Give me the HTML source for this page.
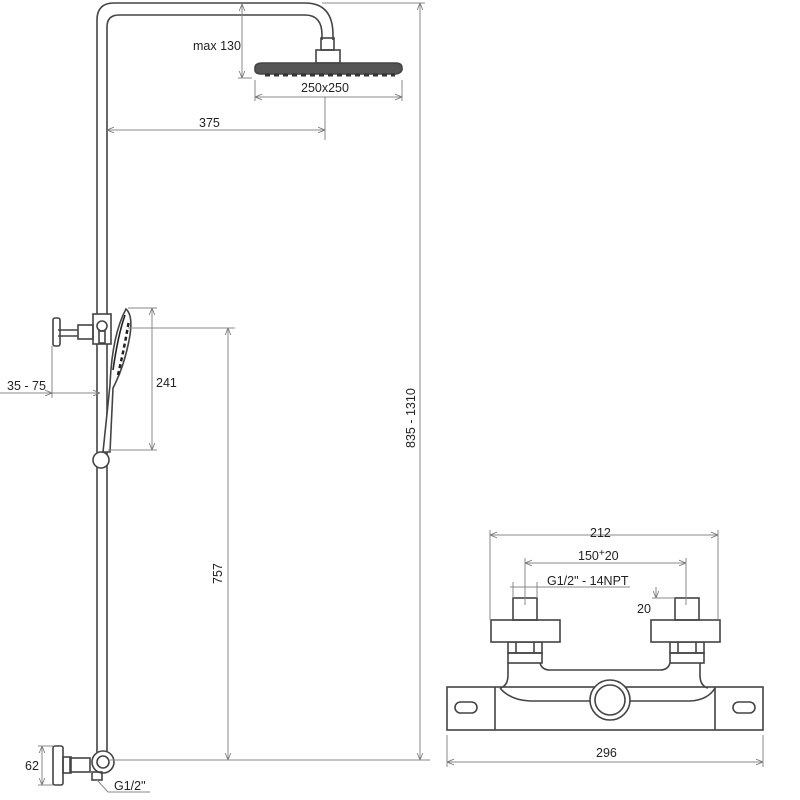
<!DOCTYPE html>
<html><head><meta charset="utf-8"><style>html,body{margin:0;padding:0;background:#fff}svg{display:block}text{font-family:"Liberation Sans",sans-serif;fill:#222}</style></head><body>
<svg width="800" height="800" viewBox="0 0 800 800" xmlns="http://www.w3.org/2000/svg">
<defs>
<marker id="a" viewBox="0 0 10 10" refX="10" refY="5" markerWidth="7" markerHeight="7" orient="auto-start-reverse"><path d="M0,1 L10,5 L0,9" fill="none" stroke="#777" stroke-width="1.2"/></marker>
</defs>
<g fill="none" stroke="#444" stroke-width="1.6">
<path d="M97,755 V20 Q97,3 114,3 H305 Q333,3 333,35 V40"/>
<path d="M107,755 V27 Q107,15 119,15 H305 Q322,15 322,35 V40"/>
<rect x="321" y="38" width="13" height="12"/>
<rect x="316" y="50" width="24" height="13"/>
<path d="M255,68 Q255,63 262,63 H396 Q402,63 402,68 V70 Q400,74 395,74 H262 Q255,74 255,70 Z" fill="#555"/>
<path d="M265,75 H395" stroke="#333" stroke-width="3" stroke-dasharray="5,4"/>
<rect x="93" y="314" width="18" height="30" fill="#fff"/>
<circle cx="102" cy="326" r="5" fill="#fff"/>
<rect x="99" y="331" width="6" height="12"/>
<rect x="78" y="325" width="15" height="14"/>
<path d="M58,330 H78 M58,336 H78"/>
<rect x="53" y="318" width="7" height="28" rx="2"/>
<path d="M110,385 Q112,335 126,309 Q133,315 130,335 Q125,365 113,388 L110,452 H103 Z" fill="#fff"/>
<path d="M113,370 Q118,335 125,315" stroke="#222" stroke-width="1.6"/>
<path d="M118,375 Q125,345 129,320" stroke="#222" stroke-width="2.5" stroke-dasharray="4,3"/>
<circle cx="101" cy="460" r="8" fill="#fff"/>
<circle cx="103" cy="762" r="11" fill="#fff"/>
<circle cx="103" cy="762" r="6"/>
<rect x="70" y="758" width="20" height="14"/>
<rect x="53" y="746" width="10" height="39" rx="2"/>
<rect x="63" y="757" width="8" height="16"/>
<rect x="92" y="772" width="10" height="8"/>
<rect x="447" y="687" width="316" height="43"/>
<path d="M495,687 V730 M715,687 V730"/>
<rect x="455" y="702" width="22" height="11" rx="5.5"/>
<rect x="733" y="702" width="22" height="11" rx="5.5"/>
<path d="M508,663 V675 Q508,686 500,688 M700,663 V675 Q700,686 708,688"/>
<path d="M540,663 Q542,670 550,670 H660 Q668,670 670,663"/>
<path d="M500,688 Q510,700 530,701 H590 M630,701 H690 Q708,700 715,688"/>
<circle cx="610" cy="700" r="20" fill="#fff"/>
<circle cx="610" cy="700" r="15"/>
<rect x="508" y="653" width="34" height="10"/>
<rect x="508" y="642" width="34" height="11"/>
<path d="M516,642 V653 M534,642 V653"/>
<rect x="670" y="653" width="34" height="10"/>
<rect x="670" y="642" width="34" height="11"/>
<path d="M678,642 V653 M696,642 V653"/>
<rect x="491" y="620" width="69" height="22" fill="#fff"/>
<rect x="651" y="620" width="69" height="22" fill="#fff"/>
<rect x="513" y="598" width="24" height="22"/>
<rect x="675" y="598" width="24" height="22"/>
</g>
<g fill="none" stroke="#888" stroke-width="1">
<path d="M242,4 V78" marker-start="url(#a)" marker-end="url(#a)"/>
<path d="M238,78 H252"/>
<path d="M255,97 H402" marker-start="url(#a)" marker-end="url(#a)"/>
<path d="M255,80 V101 M402,80 V101 M325,97 V140"/>
<path d="M107,130 H325" marker-start="url(#a)" marker-end="url(#a)"/>
<path d="M322,3 H425"/>
<path d="M420,3 V760" marker-start="url(#a)" marker-end="url(#a)"/>
<path d="M128,308 H157 M108,450 H157"/>
<path d="M152,308 V450" marker-start="url(#a)" marker-end="url(#a)"/>
<path d="M52,346 V398"/>
<path d="M0,393 H52" marker-end="url(#a)"/>
<path d="M52,393 H100" marker-end="url(#a)"/>
<path d="M128,328 H235"/>
<path d="M228,328 V760" marker-start="url(#a)" marker-end="url(#a)"/>
<path d="M110,760 H430"/>
<path d="M42,746 V785" marker-start="url(#a)" marker-end="url(#a)"/>
<path d="M38,746 H53 M38,785 H53"/>
<path d="M97,780 L108,792 H150"/>
<path d="M490,535 H718" marker-start="url(#a)" marker-end="url(#a)"/>
<path d="M490,530 V620 M718,530 V620"/>
<path d="M525,563 H686" marker-start="url(#a)" marker-end="url(#a)"/>
<path d="M525,558 V605 M686,558 V605"/>
<path d="M510,587 H537 M513,582 V598 M537,582 V598"/>
<path d="M537,587 H630"/>
<path d="M656,587 V598" marker-end="url(#a)"/>
<path d="M652,598 H675"/>
<path d="M447,762 H763" marker-start="url(#a)" marker-end="url(#a)"/>
<path d="M447,735 V767 M763,735 V767"/>
</g>
<g font-size="12.5">
<text x="193" y="50">max 130</text>
<text x="301" y="92">250x250</text>
<text x="199" y="127">375</text>
<text x="156" y="387">241</text>
<text x="7" y="390">35 - 75</text>
<text x="415" y="448" transform="rotate(-90 415 448)">835 - 1310</text>
<text x="222" y="584" transform="rotate(-90 222 584)">757</text>
<text x="25" y="770">62</text>
<text x="114" y="790">G1/2"</text>
<text x="590" y="537">212</text>
<text x="578" y="560">150<tspan font-size="10" dy="-4">+</tspan><tspan dy="4">20</tspan></text>
<text x="547" y="585">G1/2" - 14NPT</text>
<text x="637" y="613">20</text>
<text x="596" y="757">296</text>
</g>
</svg>
</body></html>
